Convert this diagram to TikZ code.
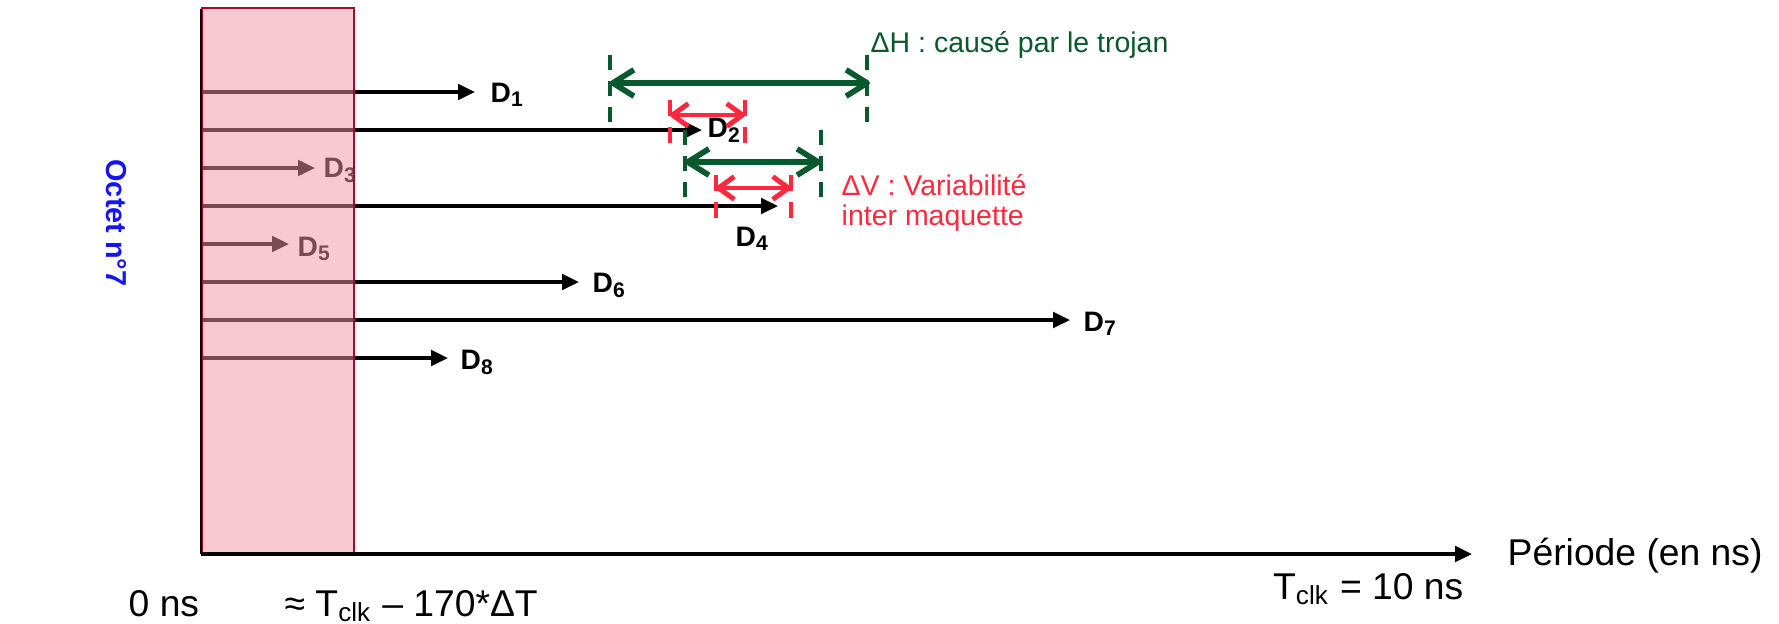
\documentclass[tikz,border=0pt]{standalone}
\usepackage{fontspec}
\setmainfont{Liberation Sans}
\usepackage{xcolor}
\usetikzlibrary{positioning, arrows.meta}

\definecolor{winpink}{RGB}{244,148,164}
\definecolor{winborder}{RGB}{165,10,45}
\definecolor{trojgreen}{RGB}{10,88,45}
\definecolor{varred}{RGB}{255,40,60}
\definecolor{octblue}{RGB}{20,20,250}

\begin{document}
\begin{tikzpicture}[
    x=0.01cm, y=-0.01cm,
    every node/.style={inner sep=0pt, font=\fontsize{10.6}{12}\selectfont},
    dlab/.style={anchor=base west, font=\fontsize{8}{9}\selectfont\bfseries},
    arr/.style={-{Triangle[length=4.8pt, width=4.4pt]}, line width=1pt},
    win/.style={draw=winborder, fill=winpink, fill opacity=0.5, draw opacity=1, line width=0.6pt},
    gmark/.style={trojgreen, line width=1.2pt, dash pattern=on 4.3pt off 3.1pt},
    rmark/.style={varred, line width=1.2pt, dash pattern=on 4.6pt off 3.1pt},
    garr/.style={{Straight Barb[length=6pt, width=7.5pt, line join=round]}-{Straight Barb[length=6pt, width=7.5pt, line join=round]}, trojgreen, line width=1.6pt, line cap=round},
    rarr/.style={{Straight Barb[length=4.5pt, width=6.5pt, line join=round]}-{Straight Barb[length=4.5pt, width=6.5pt, line join=round]}, varred, line width=1.4pt, line cap=round},
]
    \useasboundingbox (0,0) rectangle (1779,623);

    % axes
    \coordinate (o) at (201,554);
    \coordinate (top) at (201,9);
    \coordinate (xend) at (1472,554);

    % arrival of each bit
    \coordinate (t1) at (475,92);
    \coordinate (t2) at (702,130);
    \coordinate (t3) at (315,168);
    \coordinate (t4) at (778,206);
    \coordinate (t5) at (289,244);
    \coordinate (t6) at (579,282);
    \coordinate (t7) at (1070,320);
    \coordinate (t8) at (448,358);

    \node[dlab] (d1) at (490,102) {D\textsubscript{1}};
    \node[dlab] (d2) at (707,137) {D\textsubscript{2}};
    \node[dlab] (d3) at (323,177) {D\textsubscript{3}};
    \node[dlab] (d4) at (735,246) {D\textsubscript{4}};
    \node[dlab] (d5) at (297,256) {D\textsubscript{5}};
    \node[dlab] (d6) at (592,292) {D\textsubscript{6}};
    \node[dlab] (d7) at (1083,331) {D\textsubscript{7}};
    \node[dlab] (d8) at (460,369) {D\textsubscript{8}};

    \draw[arr] (o |- t1) -- (t1);
    \draw[arr] (o |- t2) -- (t2);
    \draw[arr] (o |- t3) -- (t3);
    \draw[arr] (o |- t4) -- (t4);
    \draw[arr] (o |- t5) -- (t5);
    \draw[arr] (o |- t6) -- (t6);
    \draw[arr] (o |- t7) -- (t7);
    \draw[arr] (o |- t8) -- (t8);

    % window over the short paths
    \node[win, anchor=south west, minimum width=1.52cm, minimum height=5.45cm] (win) at (o) {};
    \draw[line width=0.7pt] (o) -- (top);
    \draw[arr] (o) -- (xend);

    % trojan shift
    \coordinate (h1l) at (610,83);
    \coordinate (h1r) at (870,83);
    \draw[gmark] (h1l) ++(0,-28) -- ++(0,72);
    \draw[gmark] ([xshift=-0.03cm]h1r) ++(0,-28) -- ++(0,72);
    \draw[garr] (h1l) -- (h1r);

    \coordinate (h2l) at (685,162);
    \coordinate (h2r) at (821,162);
    \draw[gmark] (h2l) ++(0,-32) -- ++(0,72);
    \draw[gmark] (h2r) ++(0,-32) -- ++(0,72);
    \draw[garr] (h2l) -- (h2r);

    % variability between boards
    \coordinate (v1l) at (670,115);
    \coordinate (v1r) at (745,115);
    \draw[rmark] (v1l) ++(0,-15) -- ++(0,43);
    \draw[rmark] (v1r) ++(0,-15) -- ++(0,43);
    \draw[rarr] (v1l) -- (v1r);

    \coordinate (v2l) at (716,188);
    \coordinate (v2r) at (791,188);
    \draw[rmark] (v2l) ++(0,-13) -- ++(0,43);
    \draw[rmark] (v2r) ++(0,-13) -- ++(0,43);
    \draw[rarr] (v2l) -- (v2r);

    % texts
    \node[anchor=base west, text=trojgreen, font=\fontsize{8.1}{10}\selectfont] (dh) at (870,52) {ΔH : causé par le trojan};
    \node[anchor=north west, align=left, text=varred, font=\fontsize{8.1}{8.6}\selectfont] (dv) at (841,174) {ΔV : Variabilité\\inter maquette};
    \node[rotate=-90, text=octblue, font=\fontsize{8.2}{10}\selectfont\bfseries] (oct) at (116,223) {Octet n°7};

    \node[anchor=base west] (zero) at (128,616) {0 ns};
    \node[anchor=base west] (tmin) at (284,616) {≈ T\textsubscript{clk} – 170*ΔT};
    \node[anchor=base east] (tclk) at (1464,599) {T\textsubscript{clk} = 10 ns};
    \node[anchor=west] (per) at (1507,556) {Période (en ns)};
\end{tikzpicture}
\end{document}
